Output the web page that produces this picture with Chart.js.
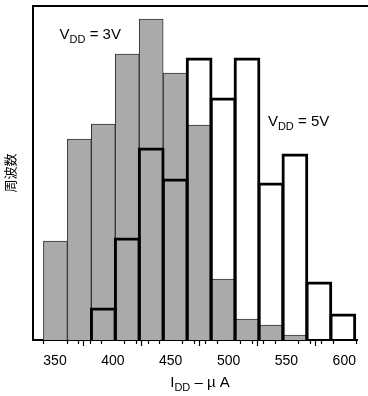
<!DOCTYPE html>
<html>
<head>
<meta charset="utf-8">
<script src="https://cdn.jsdelivr.net/npm/chart.js@4"></script>
<style>
  html, body { margin: 0; padding: 0; background: #fff; }
  #wrap { width: 368px; height: 396px; }
</style>
</head>
<body>
<div id="wrap"><canvas id="histChart"></canvas></div>
<script>
// bin edges (uA) and counts
const binEdges = [340, 360.7, 381.4, 402.1, 422.8, 443.5, 464.2, 484.9, 505.6, 526.3, 547, 567.7, 588.4, 609.1];
const counts3V = [9.9, 20.1, 21.6, 28.6, 32.1, 26.7, 21.5, 6.1, 2.1, 1.5, 0.5];
const counts5V = [null, null, 3.1, 10.1, 19.1, 16.0, 28.1, 24.1, 28.1, 15.6, 18.5, 5.7, 2.5];
const majorTicks = [350, 400, 450, 500, 550, 600];
const minorStep = 10;

const FONT = "'Liberation Sans', Arial, 'Noto Sans CJK JP', sans-serif";

const centers = binEdges.slice(0, -1).map((e, i) => (e + binEdges[i + 1]) / 2);

function toPoints(counts) {
    const pts = [];
    counts.forEach((c, i) => {
        if (c !== null) pts.push({ x: centers[i], y: c });
    });
    return pts;
}

// draws "V" + subscript "DD" + rest, left aligned at baseline
function subText(ctx, main, sub, rest, x, y, size) {
    ctx.textBaseline = 'alphabetic';
    ctx.textAlign = 'left';
    ctx.font = size + 'px ' + FONT;
    ctx.fillText(main, x, y);
    x += ctx.measureText(main).width;
    ctx.font = Math.round(size * 0.75) + 'px ' + FONT;
    ctx.fillText(sub, x, y + 4);
    x += ctx.measureText(sub).width;
    ctx.font = size + 'px ' + FONT;
    ctx.fillText(rest, x, y);
}

function subWidth(ctx, main, sub, rest, size) {
    ctx.font = size + 'px ' + FONT;
    let w = ctx.measureText(main).width + ctx.measureText(rest).width;
    ctx.font = Math.round(size * 0.75) + 'px ' + FONT;
    return w + ctx.measureText(sub).width;
}

const extras = {
    id: 'extras',
    afterDraw(chart) {
        const { ctx, chartArea: a } = chart;
        const x = chart.scales.x, y = chart.scales.y;
        ctx.save();
        ctx.strokeStyle = '#000';
        // top frame line
        ctx.lineWidth = 2;
        ctx.beginPath();
        ctx.moveTo(a.left - 1, a.top);
        ctx.lineTo(chart.width, a.top);
        ctx.stroke();
        // minor ticks
        ctx.lineWidth = 1.2;
        ctx.beginPath();
        for (let v = binEdges[0]; v <= x.max; v += minorStep) {
            if (majorTicks.includes(v)) continue;
            const px = Math.round(x.getPixelForValue(v)) + 0.5;
            ctx.moveTo(px, a.bottom);
            ctx.lineTo(px, a.bottom + 4);
        }
        ctx.stroke();
        // labels
        ctx.fillStyle = '#000';
        subText(ctx, 'V', 'DD', ' = 3V', x.getPixelForValue(354), y.getPixelForValue(30.1), 15);
        subText(ctx, 'V', 'DD', ' = 5V', x.getPixelForValue(534), y.getPixelForValue(21.4), 15);
        const w = subWidth(ctx, 'I', 'DD', ' \u2013 \u00b5 A', 15);
        subText(ctx, 'I', 'DD', ' \u2013 \u00b5 A', 200 - w / 2, a.bottom + 47, 15);
        ctx.restore();
    }
};

const data = {
    datasets: [{
        label: 'VDD = 5V',
        data: toPoints(counts5V),
        backgroundColor: 'rgba(0,0,0,0)',
        borderColor: '#000',
        // thin border + inflate gives a ~3px outline centred on the bin edge,
        // so neighbouring bins share one line instead of doubling it
        borderWidth: 0.2,
        inflateAmount: 1.4,
        order: 0
    }, {
        label: 'VDD = 3V',
        data: toPoints(counts3V),
        backgroundColor: '#aaaaaa',
        borderColor: '#333',
        borderWidth: 1,
        order: 1
    }]
};

const config = {
    type: 'bar',
    data: data,
    options: {
        animation: false,
        responsive: true,
        maintainAspectRatio: false,
        layout: { padding: { top: 6, right: 11, left: 0, bottom: 0 } },
        plugins: {
            legend: { display: false },
            tooltip: { enabled: false }
        },
        datasets: {
            bar: { grouped: false, barPercentage: 1, categoryPercentage: 1 }
        },
        scales: {
            x: {
                type: 'linear',
                offset: false,
                min: 331,
                max: 611,
                afterBuildTicks: scale => {
                    scale.ticks = majorTicks.map(v => ({ value: v }));
                },
                afterFit: scale => { scale.height = 56; },
                grid: { drawOnChartArea: false, tickLength: 6, tickWidth: 1.2, tickColor: '#000' },
                border: { color: '#000', width: 2 },
                ticks: {
                    padding: 7,
                    maxRotation: 0,
                    color: '#000',
                    font: { family: FONT, size: 14 }
                }
            },
            y: {
                min: 0,
                max: 33.4,
                afterFit: scale => { scale.width = 33; },
                grid: { display: false, drawTicks: false },
                border: { color: '#000', width: 2 },
                ticks: { display: false },
                title: {
                    display: true,
                    text: '周波数',
                    color: '#000',
                    padding: { top: 4, bottom: 0 },
                    font: { family: FONT, size: 13 }
                }
            }
        }
    },
    plugins: [extras]
};

const ctx = document.getElementById('histChart').getContext('2d');
const myChart = new Chart(ctx, config);
</script>
</body>
</html>
